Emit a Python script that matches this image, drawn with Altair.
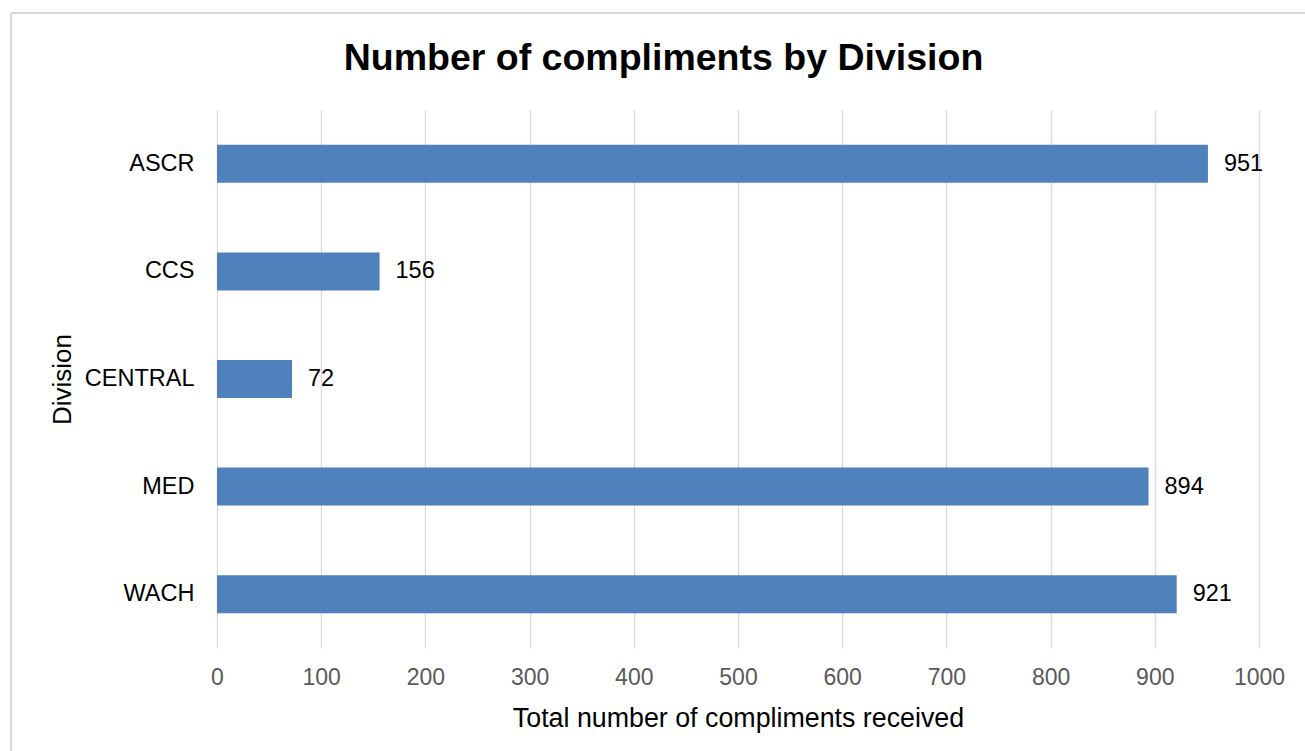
import altair as alt
import pandas as pd

divisions = ["ASCR", "CCS", "CENTRAL", "MED", "WACH"]
compliments = [951, 156, 72, 894, 921]
x_ticks = [0, 100, 200, 300, 400, 500, 600, 700, 800, 900, 1000]

df = pd.DataFrame({"Division": divisions, "Count": compliments})

FONT = "Liberation Sans"
W, H = 1042, 538

base = alt.Chart(df)

y_enc = alt.Y(
    "Division:N",
    sort=divisions,
    scale=alt.Scale(paddingInner=0.647, paddingOuter=0.3235),
    axis=alt.Axis(
        title="Division",
        titleFont=FONT, titleFontSize=26, titleFontWeight="normal", titleColor="#000000",
        titleAngle=270, titleBaseline="alphabetic", titleAlign="center",
        titleX=-147, titleY=H / 2,
        labelFont=FONT, labelFontSize=23.5, labelColor="#000000", labelPadding=23,
        ticks=False, tickSize=0, domain=False, grid=False,
    ),
)

x_enc = alt.X(
    "Count:Q",
    scale=alt.Scale(domain=[0, 1000], nice=False),
    axis=alt.Axis(
        values=x_ticks, format="d", labelFlush=False,
        title="Total number of compliments received",
        titleFont=FONT, titleFontSize=26.8, titleFontWeight="normal", titleColor="#000000",
        titleBaseline="alphabetic", titleAlign="center", titleX=W / 2, titleY=78.5,
        labelFont=FONT, labelFontSize=23, labelColor="#595959", labelPadding=18,
        ticks=False, tickSize=0, domain=False,
        grid=True, gridColor="#D9D9D9", gridWidth=1.3,
    ),
)

bars = base.mark_bar(color="#4F81BD").encode(y=y_enc, x=x_enc)

labels = base.mark_text(
    align="left", baseline="middle", dx=16, font=FONT, fontSize=23.5, color="#000000"
).encode(y=alt.Y("Division:N", sort=divisions), x="Count:Q", text="Count:Q")

frame_df = alt.Data(values=[{"k": 1}])
left_border = alt.Chart(frame_df).mark_rule(color="#D9D9D9", strokeWidth=2).encode(
    x=alt.value(-206), y=alt.value(-97), y2=alt.value(700)
)
top_border = alt.Chart(frame_df).mark_rule(color="#D9D9D9", strokeWidth=2).encode(
    x=alt.value(-206), x2=alt.value(1200), y=alt.value(-97)
)

chart = alt.layer(left_border, top_border, bars, labels).properties(
    width=W,
    height=H,
    padding={"left": 217, "top": 110, "right": 46, "bottom": 103},
    autosize=alt.AutoSizeParams(type="none"),
    title=alt.Title(
        "Number of compliments by Division",
        font=FONT, fontSize=37.5, fontWeight="bold", color="#000000",
        anchor="middle", frame="group", dx=-74.5, dy=105, baseline="alphabetic", offset=10,
    ),
).configure_view(strokeWidth=0, stroke=None)

chart.save("out.html", embed_options={"renderer": "svg", "actions": False})
